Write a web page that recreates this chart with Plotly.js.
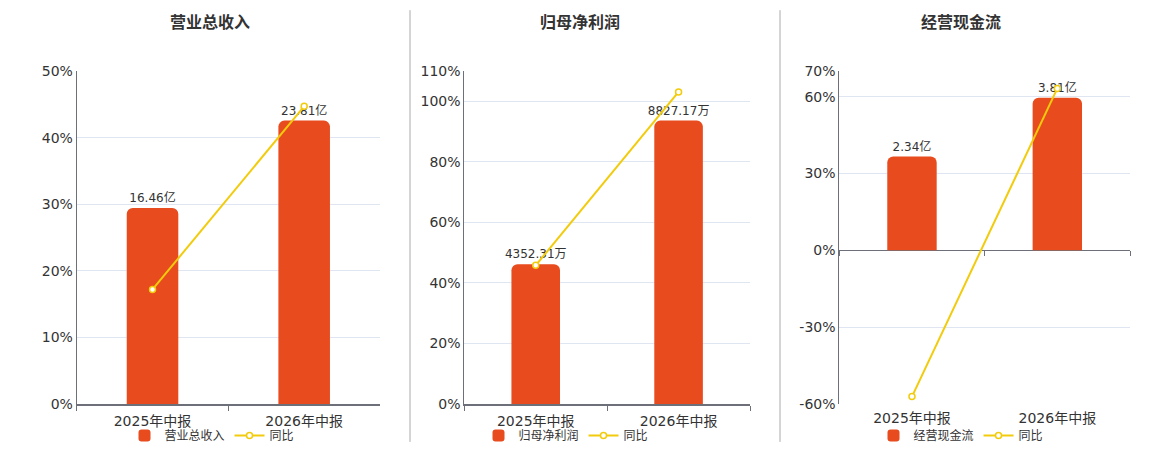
<!DOCTYPE html>
<html>
<head>
<meta charset="utf-8">
<script src="https://cdn.plot.ly/plotly-3.0.1.min.js"></script>
<style>
html,body{margin:0;padding:0;background:#fff;}
#chart{width:1160px;height:450px;}
</style>
</head>
<body>
<div id="chart"></div>
<script>
// ---- data ----
const categories = ['2025年中报', '2026年中报'];
const panelTitles = ['营业总收入', '归母净利润', '经营现金流'];
const revenueValues = [16.46, 23.81];            // 亿
const revenueLabels = ['16.46亿', '23.81亿'];
const revenueYoY = [17.2, 44.7];                 // %
const profitValues = [4352.31, 8827.17];         // 万
const profitLabels = ['4352.31万', '8827.17万'];
const profitYoY = [45.8, 103.1];                 // %
const cashValues = [2.34, 3.81];                 // 亿
const cashLabels = ['2.34亿', '3.81亿'];
const cashYoY = [-57.1, 63.2];                   // %
const yTicks1 = [0, 10, 20, 30, 40, 50];
const yTicks2 = [0, 20, 40, 60, 80, 100, 110];
const yTicks3 = [-60, -30, 0, 30, 60, 70];

// ---- styling ----
const FONT = '"DejaVu Sans", "Noto Sans CJK SC", sans-serif';
const BAR = '#E84B1D';
const LINE = '#F2CB0C';
const AXIS = '#6E7079';
const GRID = '#E0E6F1';
const TXT = '#333333';
const W = 1160, H = 450;
const mt = 71, mb = 45;
const px = v => v / W;

const barFrac = 0.851;
const series = [
  {vals: revenueValues, labels: revenueLabels, yoy: revenueYoY, name: panelTitles[0], ticks: yTicks1},
  {vals: profitValues, labels: profitLabels, yoy: profitYoY, name: panelTitles[1], ticks: yTicks2},
  {vals: cashValues, labels: cashLabels, yoy: cashYoY, name: panelTitles[2], ticks: yTicks3}
];
const domains = [[px(76.7), px(380)], [px(464.3), px(750)], [px(839.3), px(1130)]];
const legendX = [px(212), px(566), px(961)];
const titleX = [px(210), px(580), px(961)];

const traces = [];
const layout = {
  width: W, height: H,
  margin: {l: 0, r: 0, t: mt, b: mb},
  paper_bgcolor: '#fff', plot_bgcolor: '#fff',
  font: {family: FONT, color: TXT, size: 12},
  showlegend: true,
  bargap: 0.66,
  annotations: [], shapes: []
};

series.forEach((s, i) => {
  const n = i + 1;
  const xa = 'x' + (n === 1 ? '' : n);
  const yBar = 'y' + (n === 1 ? '' : n);      // main axis: bars (hidden)
  const yPctN = n + 3;
  const yPct = 'y' + yPctN;                     // overlay axis: percent (visible)
  const legendId = 'legend' + (n === 1 ? '' : n);
  const tmin = Math.min(...s.ticks), tmax = Math.max(...s.ticks);
  const barTop = Math.max(...s.vals) / barFrac;
  const barBottom = tmin < 0 ? barTop * tmin / tmax : 0;

  traces.push({
    type: 'bar', x: categories, y: s.vals, xaxis: xa, yaxis: yBar,
    name: s.name, legend: legendId,
    marker: {color: BAR, cornerradius: 6},
    text: s.labels, textposition: 'outside', cliponaxis: false, constraintext: 'none',
    textfont: {size: 12, color: TXT, family: FONT},
    hoverinfo: 'x+text'
  });
  traces.push({
    type: 'scatter', mode: 'lines+markers', x: categories, y: s.yoy,
    xaxis: xa, yaxis: yPct, name: '同比', legend: legendId,
    line: {color: LINE, width: 2},
    marker: {symbol: 'circle', size: 6, color: '#fff', line: {color: LINE, width: 1.5}},
    cliponaxis: false
  });

  const xKey = 'xaxis' + (n === 1 ? '' : n);
  const yKey = 'yaxis' + (n === 1 ? '' : n);
  layout[xKey] = {
    domain: domains[i], anchor: yBar, type: 'category',
    showline: tmin >= 0, linecolor: AXIS, linewidth: 1.5,
    ticks: tmin >= 0 ? 'outside' : '', tickson: 'boundaries', ticklen: 5, tickcolor: AXIS,
    tickfont: {size: 14, color: TXT, family: FONT}, ticklabelstandoff: 4,
    showgrid: false, fixedrange: true
  };
  layout[yKey] = {
    anchor: xa, range: [barBottom, barTop],
    showticklabels: false, ticks: '', showline: false,
    showgrid: false, zeroline: false, fixedrange: true
  };
  layout['yaxis' + yPctN] = {
    overlaying: yBar, anchor: xa, side: 'left',
    range: [tmin, tmax], tickvals: s.ticks,
    ticktext: s.ticks.map(v => v + '%'),
    showline: true, linecolor: AXIS, linewidth: 1,
    showgrid: true, gridcolor: GRID, gridwidth: 1,
    zeroline: tmin < 0, zerolinecolor: AXIS, zerolinewidth: 1.5,
    ticks: '', tickfont: {size: 14, color: TXT, family: FONT},
    fixedrange: true
  };
  layout[legendId] = {
    orientation: 'h', x: legendX[i], xanchor: 'center', y: -0.095, yanchor: 'middle',
    font: {size: 12, color: TXT, family: FONT}, bgcolor: 'rgba(0,0,0,0)',
    itemwidth: 30, tracegroupgap: 0
  };
  layout.annotations.push({
    text: '<b>' + panelTitles[i] + '</b>', xref: 'paper', yref: 'paper',
    x: titleX[i], xanchor: 'center', y: 1 + (mt - 22) / (H - mt - mb), yanchor: 'middle',
    showarrow: false, font: {size: 16, color: TXT, family: FONT}
  });

  if (tmin < 0) {
    // tick marks on the zero line for the panel with negative values
    layout.xaxis7 = {
      domain: domains[i], overlaying: xa, anchor: 'free',
      position: (0 - tmin) / (tmax - tmin),
      range: [-0.5, 1.5], tickvals: [-0.5, 0.5, 1.5],
      showticklabels: false, ticks: 'outside', ticklen: 5, tickcolor: AXIS,
      showline: false, showgrid: false, zeroline: false, fixedrange: true
    };
    traces.push({type: 'scatter', x: [0], y: [0], xaxis: 'x7', yaxis: yPct,
      mode: 'markers', marker: {opacity: 0}, showlegend: false, hoverinfo: 'skip'});
  }
});

// panel separators
[410, 780].forEach(xp => {
  layout.shapes.push({type: 'line', xref: 'paper', yref: 'paper',
    x0: px(xp), x1: px(xp),
    y0: (H - mb - 443) / (H - mt - mb), y1: (H - mb - 10) / (H - mt - mb),
    line: {color: '#AAAAAA', width: 1}});
});

Plotly.newPlot('chart', traces, layout, {displayModeBar: false, staticPlot: true});
</script>
</body>
</html>
